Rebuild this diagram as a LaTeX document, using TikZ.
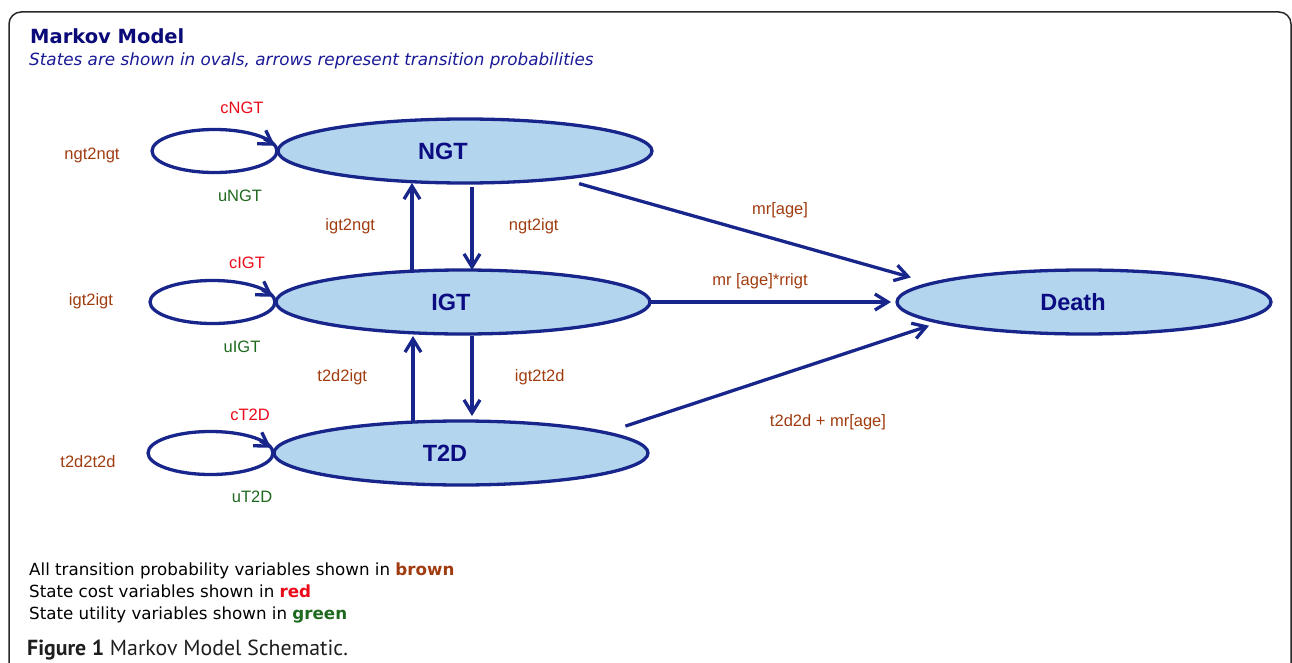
\documentclass[tikz,border=0pt]{standalone}
\usepackage{xcolor}
\usepackage{fontspec}
\setmainfont{Liberation Sans}
\newfontfamily\verdana{DejaVu Sans}
\newfontfamily\capfont{PT Sans}
\usetikzlibrary{arrows.meta, positioning, shapes.geometric}
\definecolor{navyline}{RGB}{24,38,140}
\definecolor{stateblue}{RGB}{180,213,238}
\definecolor{statetext}{RGB}{12,12,130}
\definecolor{titlenavy}{RGB}{10,10,120}
\definecolor{subnavy}{RGB}{25,25,150}
\definecolor{probbrown}{RGB}{160,60,15}
\definecolor{costred}{RGB}{235,10,25}
\definecolor{utilgreen}{RGB}{30,105,30}
\definecolor{framecol}{RGB}{40,40,40}
\definecolor{captext}{RGB}{30,30,30}

\begin{document}
\begin{tikzpicture}[
    x=1pt, y=1pt,
    >={Straight Barb[length=13pt, width=16pt]},
    oval/.style ={draw=navyline, fill=stateblue, ellipse, line width=3.3pt,
                  minimum width=374pt, minimum height=64pt, inner sep=0pt,
                  outer sep=0pt},
    statename/.style={text=statetext, font=\fontsize{23.5}{26}\selectfont\bfseries},
    ring/.style ={draw=navyline, ellipse, line width=3.3pt, minimum width=125pt,
                  minimum height=43pt, inner sep=0pt, outer sep=0pt},
    flow/.style ={->, line width=3.3pt, draw=navyline},
    prob/.style ={text=probbrown, font=\fontsize{16.5}{19}\selectfont},
    cost/.style ={prob, text=costred},
    util/.style ={prob, text=utilgreen},
    legend/.style={anchor=base west, inner sep=0pt,
                   font=\verdana\fontsize{16.7}{19}\selectfont},
]
\useasboundingbox (0,0) rectangle (1292,-663);
\draw[framecol, line width=1.5pt, rounded corners=12pt]
    (9,-670) -- (9,-12) -- (1291,-12) -- (1291,-670);

\node[anchor=base west, inner sep=0pt, text=titlenavy,
      font=\verdana\bfseries\fontsize{19.5}{22}\selectfont] (title) at (30,-44) {Markov Model};
\node[anchor=base west, inner sep=0pt, text=subnavy,
      font=\verdana\itshape\fontsize{16.8}{19}\selectfont] (subtitle) at (29,-66)
      {States are shown in ovals, arrows represent transition probabilities};

% states
\node[oval] (NGT) at (465,-151) {};
\node[oval, below=87pt of NGT, xshift=-2pt]  (IGT)   {};
\node[oval, below=87pt of IGT, xshift=-2pt]  (T2D)   {};
\node[oval, right=247pt of IGT]              (Death) {};
\node[statename] (ngtname)   at ([xshift=-22pt]NGT.center)   {NGT};
\node[statename] (igtname)   at ([xshift=-12pt]IGT.center)   {IGT};
\node[statename] (t2dname)   at ([xshift=-16pt]T2D.center)   {T2D};
\node[statename] (deathname) at ([xshift=-11pt]Death.center) {Death};

% self loops, arrow head sits on the ring next to the state
\node[ring, left=1pt of NGT] (ngtloop) {};
\node[ring, left=1pt of IGT] (igtloop) {};
\node[ring, left=1pt of T2D] (t2dloop) {};
\foreach \s in {ngtloop, igtloop, t2dloop}
  \draw[flow] ([shift={(-11pt,7pt)}]\s.5) -- (\s.5);

\node[prob] (ngtngt) at (92,-155)  {ngt2ngt};
\node[cost] (cngt)   at (242,-108) {cNGT};
\node[util] (ungt)   at (240,-196) {uNGT};
\node[prob] (igtigt) at (91,-301)  {igt2igt};
\node[cost] (cigt)   at (247,-263) {cIGT};
\node[util] (uigt)   at (242,-347) {uIGT};
\node[prob] (t2dt2d) at (88,-462)  {t2d2t2d};
\node[cost] (ct2d)   at (250,-415) {cT2D};
\node[util] (ut2d)   at (252,-497) {uT2D};

% transitions between states
\draw[flow] ([xshift=-51pt]IGT.north) -- ([xshift=-51pt]IGT.north |- NGT.south)
    node[midway, left=32pt, prob] {igt2ngt};
\draw[flow, shorten <=4pt] ([xshift=7pt]NGT.south) -- ([xshift=7pt]NGT.south |- IGT.north)
    node[midway, right=32pt, prob] {ngt2igt};
\draw[flow, shorten >=2pt] ([xshift=-48pt]T2D.north) -- ([xshift=-48pt]T2D.north |- IGT.south)
    node[midway, left=41pt, prob] {t2d2igt};
\draw[flow, shorten <=2pt, shorten >=5pt] ([xshift=9pt]IGT.south) -- ([xshift=9pt]IGT.south |- T2D.north)
    node[midway, right=38pt, prob] {igt2t2d};

% into death
\draw[flow, shorten <=19pt, shorten >=22pt] (NGT.-16) -- (Death.173);
\draw[flow, shorten >=6pt] (IGT.east) -- (Death.west);
\draw[flow, shorten <=21pt, shorten >=11pt] (T2D.8) -- (Death.188);
\node[prob] (mrngt) at (780,-210) {mr[age]};
\node[prob] (mrigt) at (760,-281) {mr [age]*rrigt};
\node[prob] (mrt2d) at (828,-422) {t2d2d + mr[age]};

% legend and caption
\node[legend] (leg1) at (29,-575) {All transition probability variables shown in \textcolor{probbrown}{\bfseries brown}};
\node[legend] (leg2) at (29,-597) {State cost variables shown in \textcolor{costred}{\bfseries red}};
\node[legend] (leg3) at (29,-619) {State utility variables shown in \textcolor{utilgreen}{\bfseries green}};
\node[anchor=base west, inner sep=0pt, text=captext,
      font=\capfont\fontsize{21.8}{24}\selectfont] (caption) at (27,-655)
      {\textbf{Figure 1} Markov Model Schematic.};
\end{tikzpicture}
\end{document}
